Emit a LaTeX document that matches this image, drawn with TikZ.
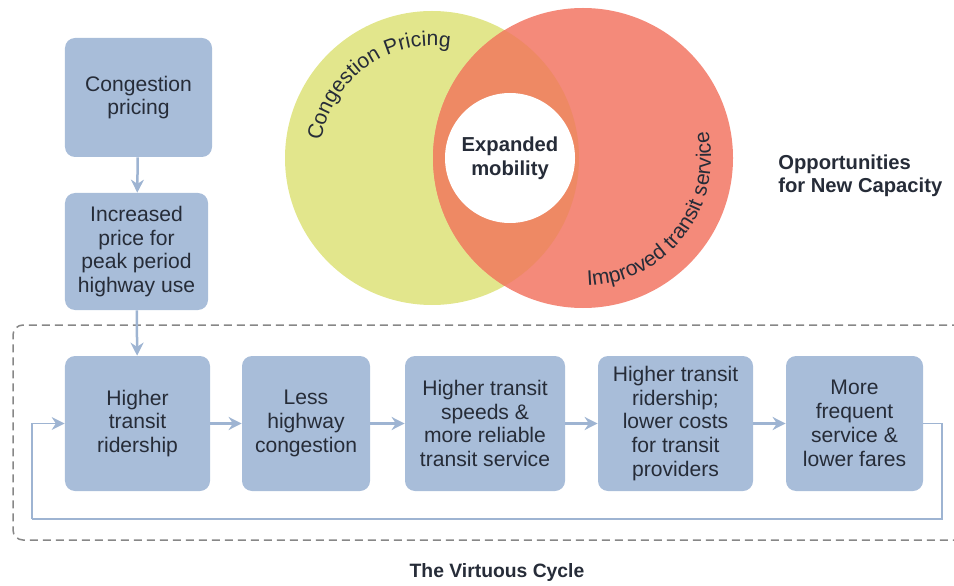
\documentclass[tikz,border=0pt]{standalone}
\usepackage{fontspec}
\setmainfont{Liberation Sans}
\usetikzlibrary{arrows.meta,decorations.text}

\definecolor{boxblue}{RGB}{168,189,217}
\definecolor{arrowblue}{RGB}{158,180,210}
\definecolor{ink}{RGB}{38,44,56}
\definecolor{vennyellow}{RGB}{226,230,140}
\definecolor{vennred}{RGB}{244,138,122}
\definecolor{vennorange}{RGB}{238,137,100}
\definecolor{framegray}{RGB}{135,135,135}

\newcommand{\venntext}{\fontsize{12}{14}\selectfont\color{ink}}

\begin{document}
\begin{tikzpicture}[x=0.2mm, y=0.2mm,
    box/.style={fill=boxblue, rounded corners=2mm, text=ink, align=center,
      font=\fontsize{12}{13.6}\selectfont, inner sep=0pt},
    flow/.style={draw=arrowblue, line width=0.5mm,
      -{Stealth[length=2.6mm, width=2.6mm]}},
    loop/.style={draw=arrowblue, line width=0.35mm,
      -{Stealth[length=2.6mm, width=2.6mm]}},
    heading/.style={text=ink, font=\bfseries\fontsize{11.5}{13}\selectfont, inner sep=0pt}]
  \useasboundingbox (0,0) rectangle (954,585);

  % venn diagram
  \coordinate (yel) at (432,427);
  \coordinate (red) at (583,427);
  \fill[vennyellow] (yel) circle[radius=147];
  \fill[vennred] (red) circle[radius=150];
  \begin{scope}
    \clip (yel) circle[radius=147];
    \fill[vennorange] (red) circle[radius=150];
  \end{scope}
  \node[circle, fill=white, minimum size=26mm, inner sep=0pt, align=center,
    text=ink, font=\bfseries\fontsize{11.5}{13.5}\selectfont]
    (mobility) at (510,427) {Expanded\\mobility};
  \path[decorate, decoration={text along path, text align=center,
      text={|\venntext|Congestion Pricing}}]
    ([shift={(216:112)}]yel) arc[start angle=216, end angle=36, radius=112];
  \path[decorate, decoration={text along path, text align=center,
      text={|\venntext|Improved transit service}}]
    ([shift={(-128:128)}]red) arc[start angle=-128, end angle=52, radius=128];
  \node[heading, anchor=west, align=left] (opps) at (778,409)
    {Opportunities\\for New Capacity};

  % the cycle frame
  \draw[framegray, line width=0.3mm, dash pattern=on 1.6mm off 1mm,
    rounded corners=2mm] (960,260) -- (13,260) -- (13,45) -- (960,45);
  \node[heading, font=\bfseries\fontsize{11}{13}\selectfont] (title) at (497,13)
    {The Virtuous Cycle};

  % boxes
  \node[box, minimum width=29.4mm, minimum height=23.8mm] (pricing) at (138.5,487.5)
    {Congestion\\pricing};
  \node[box, minimum width=28.6mm, minimum height=23.4mm] (price) at (136.5,333.5)
    {Increased\\price for\\peak period\\highway use};
  \node[box, minimum width=29mm, minimum height=27mm] (b1) at (137.5,161.5)
    {Higher\\transit\\ridership};
  \node[box, minimum width=25.6mm, minimum height=27mm] (b2) at (306,161.5)
    {Less\\highway\\congestion};
  \node[box, minimum width=32mm, minimum height=27mm] (b3) at (485,161.5)
    {Higher transit\\speeds \&\\more reliable\\transit service};
  \node[box, minimum width=31mm, minimum height=27mm] (b4) at (675.5,161.5)
    {Higher transit\\ridership;\\lower costs\\for transit\\providers};
  \node[box, minimum width=27.4mm, minimum height=27mm] (b5) at (854.5,161.5)
    {More\\frequent\\service \&\\lower fares};

  % arrows
  \draw[flow] (pricing) -- (price);
  \draw[flow] (price) -- (b1);
  \draw[flow] (b1) -- (b2);
  \draw[flow] (b2) -- (b3);
  \draw[flow] (b3) -- (b4);
  \draw[flow] (b4) -- (b5);
  \coordinate (loopR) at (942,66);
  \coordinate (loopL) at (32,66);
  \draw[loop, arrows=-] (b5.east) -| (loopR) -- (loopL);
  \draw[loop] (loopL) |- (b1.west);
\end{tikzpicture}
\end{document}
